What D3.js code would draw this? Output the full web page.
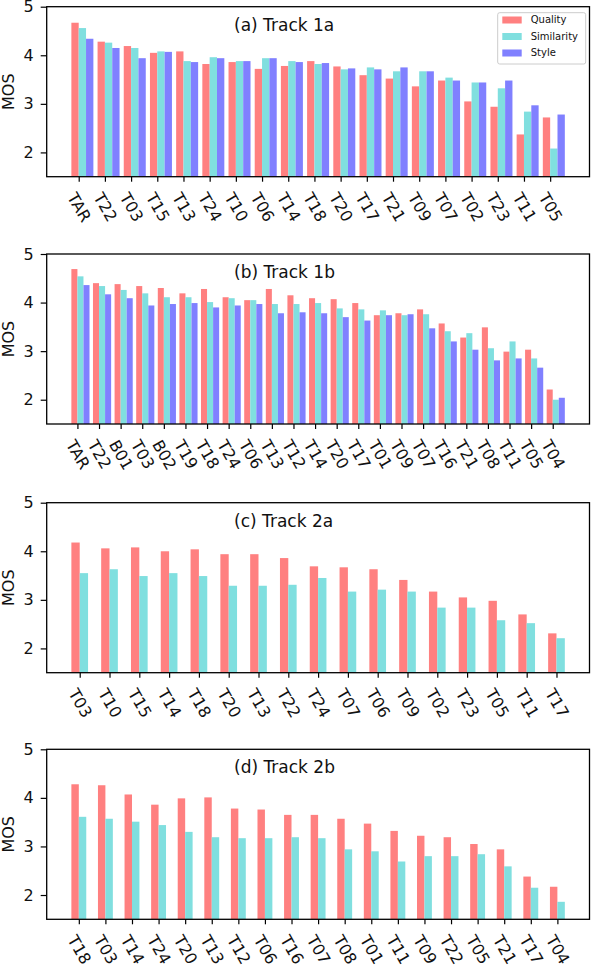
<html>
<head>
  <meta charset="utf-8" />
  <script src="https://d3js.org/d3.v7.min.js"></script>
</head>
<body style="margin: 0; background: white">
<script>

// ---- data ----
const catsA = ['TAR','T22','T03','T15','T13','T24','T10','T06','T14','T18','T20','T17','T21','T09','T07','T02','T23','T11','T05']
const qualityA    = [4.67,4.28,4.19,4.05,4.08,3.82,3.86,3.72,3.78,3.88,3.77,3.59,3.52,3.36,3.48,3.05,2.94,2.37,2.72]
const similarityA = [4.56,4.26,4.15,4.08,3.88,3.96,3.88,3.94,3.88,3.82,3.71,3.75,3.67,3.67,3.54,3.44,3.32,2.84,2.08]
const styleA      = [4.34,4.15,3.94,4.07,3.86,3.94,3.88,3.94,3.86,3.84,3.73,3.71,3.75,3.67,3.48,3.44,3.48,2.97,2.78]

const catsB = ['TAR','T22','B01','T03','B02','T19','T18','T24','T06','T13','T12','T14','T20','T17','T01','T09','T07','T16','T21','T08','T11','T05','T04']
const qualityB    = [4.69,4.40,4.38,4.34,4.30,4.19,4.28,4.11,4.05,4.28,4.15,4.09,4.07,3.99,3.74,3.78,3.86,3.57,3.28,3.49,2.99,3.03,2.21]
const similarityB = [4.54,4.34,4.26,4.19,4.11,4.11,4.01,4.09,4.05,3.97,3.97,3.99,3.88,3.86,3.84,3.74,3.76,3.41,3.37,3.06,3.20,2.85,2.00]
const styleB      = [4.36,4.17,4.09,3.94,3.97,3.99,3.90,3.94,3.97,3.78,3.80,3.78,3.70,3.63,3.74,3.76,3.47,3.20,3.03,2.81,2.85,2.66,2.04]

const catsC = ['T03','T10','T15','T14','T18','T20','T13','T22','T24','T07','T06','T09','T02','T23','T05','T11','T17']
const qualityC    = [4.18,4.06,4.08,4.00,4.04,3.94,3.94,3.86,3.69,3.67,3.63,3.41,3.17,3.05,2.98,2.70,2.31]
const similarityC = [3.55,3.63,3.49,3.55,3.49,3.29,3.29,3.31,3.45,3.17,3.21,3.17,2.84,2.84,2.58,2.52,2.21]

const catsD = ['T18','T03','T14','T24','T20','T13','T12','T06','T16','T07','T08','T01','T11','T09','T22','T05','T21','T17','T04']
const qualityD    = [4.28,4.26,4.07,3.86,3.99,4.01,3.78,3.76,3.65,3.65,3.57,3.47,3.32,3.22,3.19,3.05,2.94,2.38,2.17]
const similarityD = [3.61,3.57,3.51,3.44,3.30,3.19,3.17,3.17,3.19,3.17,2.94,2.90,2.69,2.80,2.80,2.84,2.59,2.15,1.86]

const seriesNames = ['Quality','Similarity','Style']
const yTicks = [2,3,4,5]

const colors = {Quality: '#ff8080', Similarity: '#80dfdf', Style: '#8080ff'}

const panels = [
  {title: '(a) Track 1a', cats: catsA, series: [qualityA, similarityA, styleA], legend: true},
  {title: '(b) Track 1b', cats: catsB, series: [qualityB, similarityB, styleB]},
  {title: '(c) Track 2a', cats: catsC, series: [qualityC, similarityC]},
  {title: '(d) Track 2b', cats: catsD, series: [qualityD, similarityD]}
]

// ---- layout ----
const font = 'DejaVu Sans'
const left = 46.7, right = 589.5, plotH = 170
const tops = [6.7, 254, 502.7, 749.3]
const bw = 0.28

var svg = d3.select('body').append('svg')
  .attr('width', 592)
  .attr('height', 968)
  .style('font-family', font)

panels.forEach(function(p, pi) {
  let top = tops[pi]
  let n = p.cats.length, nb = p.series.length
  let lo = -bw, hi = n - 1 + (nb - 1) * bw
  let m = 0.05 * (hi - lo)

  let x = d3.scaleLinear().domain([lo - m, hi + m]).range([left, right])
  let y = d3.scaleLinear().domain([1.5, 5]).range([top + plotH, top])

  let g = svg.append('g')

  // bars
  p.series.forEach(function(vals, k) {
    let name = seriesNames[k]
    g.selectAll('rect.s' + k)
      .data(vals)
      .enter().append('rect')
      .attr('class', 's' + k)
      .attr('x', (d, i) => x(i + (k - 1) * bw))
      .attr('width', x(bw) - x(0))
      .attr('y', d => y(d))
      .attr('height', d => y(1.5) - y(d))
      .attr('fill', colors[name])
  })

  // y axis
  let ya = g.append('g')
    .attr('transform', 'translate(' + left + ',0)')
    .call(d3.axisLeft(y).tickValues(yTicks).tickFormat(d3.format('d')).tickSize(6).tickPadding(7))
  ya.select('.domain').remove()
  ya.selectAll('line').attr('stroke', 'black').attr('stroke-width', 1.2)
  ya.selectAll('text').attr('font-size', 16).attr('font-family', font).attr('fill', '#111')

  // x axis
  let xa = g.append('g')
    .attr('transform', 'translate(0,' + (top + plotH) + ')')
    .call(d3.axisBottom(x).tickValues(d3.range(n)).tickFormat(i => p.cats[i]).tickSize(5))
  xa.select('.domain').remove()
  xa.selectAll('line').attr('stroke', 'black').attr('stroke-width', 1.2)
  xa.selectAll('text')
    .attr('font-size', 16)
    .attr('font-family', font)
    .attr('fill', '#111')
    .attr('text-anchor', 'middle')
    .attr('dominant-baseline', 'central')
    .attr('dy', null)
    .attr('y', null)
    .attr('transform', function() {
      let L = this.getComputedTextLength()
      let h = 11.7
      let c = 14.5 + (L * Math.sin(Math.PI / 3) + h * 0.5) / 2
      return 'translate(0,' + c + ') rotate(60)'
    })

  // frame
  g.append('rect')
    .attr('x', left).attr('y', top)
    .attr('width', right - left).attr('height', plotH)
    .attr('fill', 'none').attr('stroke', 'black').attr('stroke-width', 1.3)

  // y label
  g.append('text')
    .attr('transform', 'translate(8,' + (top + plotH / 2) + ') rotate(-90)')
    .attr('text-anchor', 'middle')
    .attr('dominant-baseline', 'central')
    .attr('font-size', 16)
    .attr('fill', '#111')
    .text('MOS')

  // panel title
  g.append('text')
    .attr('x', 234)
    .attr('y', top + 24)
    .attr('font-size', 17)
    .attr('fill', '#111')
    .text(p.title)

  if (p.legend) {
    let lg = g.append('g').attr('transform', 'translate(497.7,' + (top + 6) + ')')
    lg.append('rect')
      .attr('width', 88).attr('height', 51.3).attr('rx', 2)
      .attr('fill', 'white').attr('fill-opacity', 0.8)
      .attr('stroke', '#cccccc').attr('stroke-width', 1)
    seriesNames.forEach(function(name, k) {
      let cy = 7.3 + k * 16.5
      lg.append('rect')
        .attr('x', 4.6).attr('y', cy - 3.5)
        .attr('width', 19.4).attr('height', 7)
        .attr('fill', colors[name])
      lg.append('text')
        .attr('x', 33).attr('y', cy)
        .attr('dominant-baseline', 'central')
        .attr('font-size', 10)
        .attr('fill', '#111')
        .text(name)
    })
  }
})

</script>
</body>
</html>
